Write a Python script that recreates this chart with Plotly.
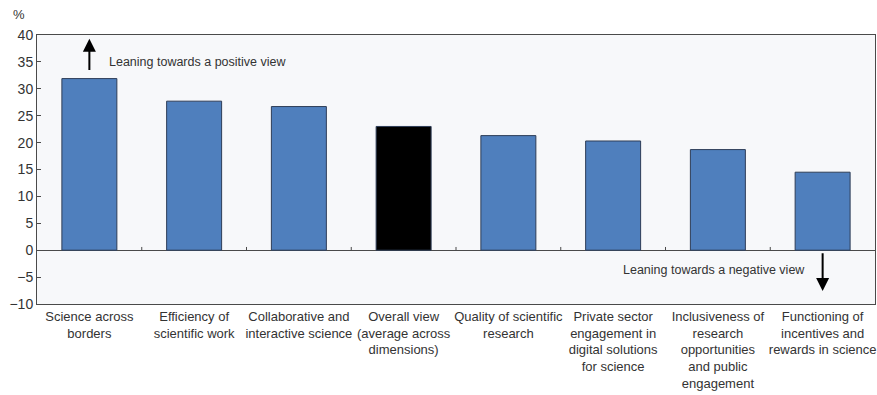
import plotly.graph_objects as go

categories = [
    "Science across<br>borders",
    "Efficiency of<br>scientific work",
    "Collaborative and<br>interactive science",
    "Overall view<br>(average across<br>dimensions)",
    "Quality of scientific<br>research",
    "Private sector<br>engagement in<br>digital solutions<br>for science",
    "Inclusiveness of<br>research<br>opportunities<br>and public<br>engagement",
    "Functioning of<br>incentives and<br>rewards in science",
]
values = [31.9, 27.7, 26.7, 23.0, 21.3, 20.3, 18.7, 14.5]
is_overall = [False, False, False, True, False, False, False, False]

y_ticks = list(range(-10, 45, 5))

FONT = "Liberation Sans Narrow, Arial Narrow, Liberation Sans, Arial, sans-serif"
BLUE = "#4f7fbd"
TEXT = "#333333"
AXIS = "#4a4a4a"

colors = ["#000000" if o else BLUE for o in is_overall]
xs = list(range(len(categories)))

fig = go.Figure()
fig.add_trace(go.Bar(
    x=xs,
    y=values,
    marker=dict(color=colors, line=dict(color="#2e3d57", width=1)),
    width=0.525,
    hoverinfo="skip",
))

# small tick marks on the zero line between categories
for i in range(len(categories) - 1):
    fig.add_shape(type="line", xref="x", yref="y",
                  x0=i + 0.5, x1=i + 0.5, y0=0, y1=0.6,
                  line=dict(color=AXIS, width=1))

# direction arrows and labels
fig.add_annotation(x=0, y=39.3, ax=0, ay=33.2, xref="x", yref="y",
                   axref="x", ayref="y", showarrow=True, arrowhead=2,
                   arrowsize=1.3, arrowwidth=2, arrowcolor="#000000", text="")
fig.add_annotation(x=0.17, y=34.9, xref="x", yref="y", xanchor="left",
                   yanchor="middle", showarrow=False,
                   text="Leaning towards a positive view",
                   font=dict(family=FONT, size=12.5, color=TEXT))
fig.add_annotation(x=7, y=-7.6, ax=7, ay=-0.3, xref="x", yref="y",
                   axref="x", ayref="y", showarrow=True, arrowhead=2,
                   arrowsize=1.3, arrowwidth=2, arrowcolor="#000000", text="")
fig.add_annotation(x=6.85, y=-3.6, xref="x", yref="y", xanchor="right",
                   yanchor="middle", showarrow=False,
                   text="Leaning towards a negative view",
                   font=dict(family=FONT, size=12.5, color=TEXT))

# unit label above the y axis
fig.add_annotation(x=-0.022, y=1, xref="paper", yref="paper", yshift=21,
                   xanchor="center", yanchor="middle", showarrow=False,
                   text="%", font=dict(family=FONT, size=13, color=TEXT))

fig.update_layout(
    width=877, height=395,
    margin=dict(l=37, r=2, t=35, b=91),
    paper_bgcolor="#ffffff",
    plot_bgcolor="#f7f8fa",
    showlegend=False,
    font=dict(family=FONT, size=13, color=TEXT),
    bargap=0.475,
)
fig.update_xaxes(
    tickmode="array", tickvals=xs, ticktext=categories,
    range=[-0.5, len(categories) - 0.5],
    showline=True, linecolor=AXIS, linewidth=1, mirror=True,
    ticks="", showgrid=False, zeroline=False,
    tickfont=dict(family=FONT, size=13, color=TEXT),
    tickangle=0,
)
fig.update_yaxes(
    range=[-10, 40], tickmode="array", tickvals=y_ticks,
    ticks="inside", ticklen=4, tickcolor=AXIS,
    showline=True, linecolor=AXIS, linewidth=1, mirror=True,
    showgrid=False, zeroline=True, zerolinecolor=AXIS, zerolinewidth=1,
    tickfont=dict(family=FONT, size=14, color=TEXT),
)

fig.write_html("out.html")
